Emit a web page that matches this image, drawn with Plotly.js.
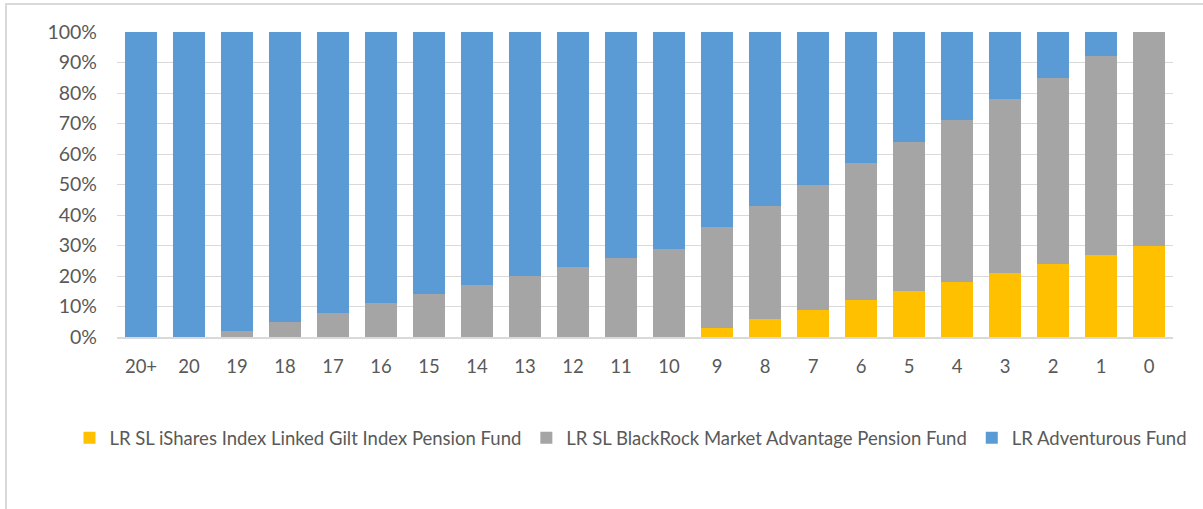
<!DOCTYPE html>
<html>
<head>
<meta charset="utf-8">
<script src="https://cdn.plot.ly/plotly-3.0.1.min.js"></script>
<style>
html,body{margin:0;padding:0;background:#fff;overflow:hidden;}
#frame{position:absolute;left:5px;top:3px;width:1230px;height:540px;border:2px solid #d9d9d9;box-sizing:border-box;}
#chart{position:absolute;left:0;top:0;width:1203px;height:509px;}
</style>
</head>
<body>
<div id="frame"></div>
<div id="chart"></div>
<script>
const categories = ["20+","20","19","18","17","16","15","14","13","12","11","10","9","8","7","6","5","4","3","2","1","0"];
const gilt =      [0,0,0,0,0,0,0,0,0,0,0,0,3,6,9,12,15,18,21,24,27,30];
const blackrock = [0,0,2,5,8,11,14,17,20,23,26,29,33,37,41,45,49,53,57,61,65,70];
const adventurous=[100,100,98,95,92,89,86,83,80,77,74,71,64,57,50,43,36,29,22,15,8,0];
const seriesNames = ["LR SL iShares Index Linked Gilt Index Pension Fund","LR SL BlackRock Market Advantage Pension Fund","LR Adventurous Fund"];
const seriesColors = ["#FFC000","#A5A5A5","#5B9BD5"];
const allSeries = [gilt, blackrock, adventurous];

const traces = allSeries.map((vals,i)=>({
  type:"bar", x:categories, y:vals, name:seriesNames[i],
  marker:{color:seriesColors[i], line:{width:0}},
  hoverinfo:"skip"
}));

const font = "Lato, 'Liberation Sans', sans-serif";
const layout = {
  width:1203, height:509,
  paper_bgcolor:"rgba(0,0,0,0)", plot_bgcolor:"rgba(0,0,0,0)",
  margin:{l:117,r:30,t:32,b:172},
  barmode:"stack", bargap:0.333,
  font:{family:font, size:18, color:"#595959"},
  xaxis:{type:"category", showgrid:false, showline:true, linecolor:"#d9d9d9", linewidth:2,
         ticks:"", ticklabelstandoff:12, tickfont:{size:18.5,color:"#595959"}, zeroline:false},
  yaxis:{range:[0,100], dtick:10, ticksuffix:"%", showgrid:true, gridcolor:"#d9d9d9", gridwidth:1,
         zeroline:false, showline:false, ticks:"", ticklabelstandoff:19, tickfont:{size:19.5,color:"#595959"}},
  showlegend:true,
  legend:{orientation:"h", x:-0.045, xanchor:"left", y:-0.332, yanchor:"middle",
          font:{size:18.5,color:"#595959"}, traceorder:"normal", itemwidth:30},
};
Plotly.newPlot("chart", traces, layout, {staticPlot:true, displayModeBar:false});
</script>
</body>
</html>
